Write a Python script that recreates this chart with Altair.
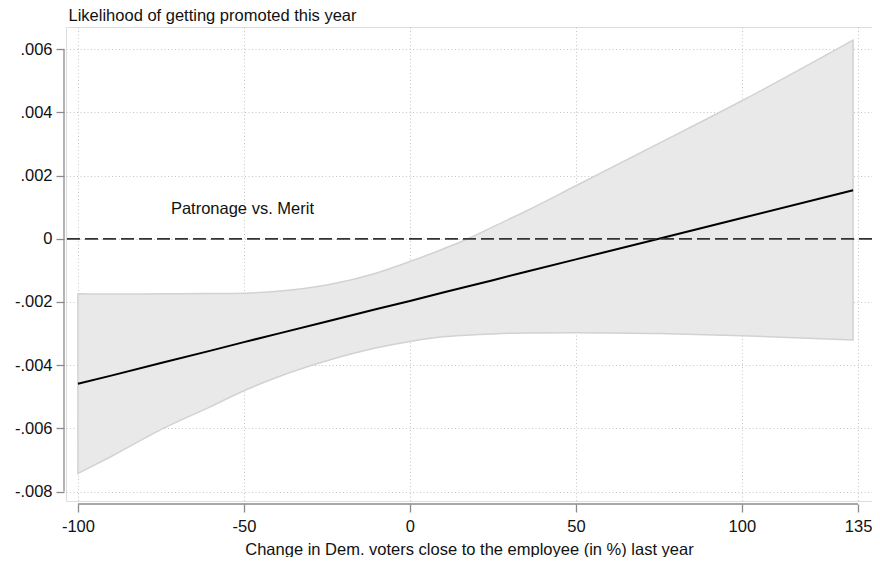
import pandas as pd
import altair as alt

# values
x_vals = [-100, -90, -75, -60, -50, -40, -25, -10, 0, 10, 17, 25, 35, 50, 75, 100, 133.5]
fit_vals = [-.00459, -.00433, -.00393, -.00354, -.00327, -.00301, -.00262, -.00222, -.00197,
            -.00170, -.00152, -.00131, -.00104, -.00065, .0, .00066, .00154]
ci_upper = [-.00174, -.00175, -.00174, -.00173, -.00172, -.00166, -.00146, -.00108, -.00072,
            -.00032, -.00002, .00038, .00088, .00168, .00302, .00437, .00629]
ci_lower = [-.00743, -.00689, -.00604, -.00531, -.00481, -.00438, -.00386, -.00345, -.00325,
            -.00310, -.00305, -.00301, -.00298, -.00297, -.00300, -.00307, -.00320]

x_ticks = [-100, -50, 0, 50, 100, 135]
y_ticks = [-.008, -.006, -.004, -.002, 0, .002, .004, .006]

note_text = ["Patronage vs. Merit"]
note_x = [-72]
note_y = [.00095]

FONT = "Liberation Sans"
FS = 16.5
AXIS_GREY = "#8a8a8a"
GRID_GREY = "#c4c4c4"
TEXT = "#111"

df = pd.DataFrame({"x": x_vals, "fit": fit_vals, "hi": ci_upper, "lo": ci_lower})
notes = pd.DataFrame({"x": note_x, "y": note_y, "t": note_text})
zero = pd.DataFrame({"y": [0]})
xaxis_line = pd.DataFrame({"x": [min(x_ticks)], "x2": [max(x_ticks)]})
yaxis_line = pd.DataFrame({"y": [min(y_ticks)], "y2": [max(y_ticks)]})

xscale = alt.Scale(domain=[-103.6, 139.2], nice=False, zero=False)
yscale = alt.Scale(domain=[-.0083, .006706], nice=False, zero=False)

x_axis = alt.Axis(
    values=x_ticks, labelExpr="'' + datum.value", domain=False, offset=3,
    tickSize=8, tickColor=AXIS_GREY, tickWidth=1.3,
    labelBaseline="alphabetic", labelPadding=19.5,
    labelFontSize=FS, labelColor=TEXT, labelFont=FONT, labelFlush=False,
    grid=True, gridDash=[1, 2.5], gridColor=GRID_GREY, gridWidth=1,
    title="Change in Dem. voters close to the employee (in %) last year",
    titleFont=FONT, titleFontSize=FS, titleFontWeight="normal", titleColor=TEXT,
    titleBaseline="alphabetic", titleY=50.5,
)
y_axis = alt.Axis(
    values=y_ticks, domain=False, offset=2,
    labelExpr="datum.value == 0 ? '0' : (datum.value < 0 ? '-' : '')"
              " + replace(format(abs(datum.value), '.3f'), '0.', '.')",
    tickSize=8, tickColor=AXIS_GREY, tickWidth=1.3,
    labelPadding=4, labelFontSize=FS, labelColor=TEXT, labelFont=FONT,
    grid=True, gridDash=[1, 2.5], gridColor=GRID_GREY, gridWidth=1,
    title="Likelihood of getting promoted this year",
    titleFont=FONT, titleFontSize=FS, titleFontWeight="normal", titleColor=TEXT,
    titleAngle=0, titleAlign="left", titleBaseline="alphabetic",
    titleX=4, titleY=-7,
)

base = alt.Chart(df)

band = base.mark_area(
    color="#e9e9e9", stroke="#d2d2d2", strokeWidth=1.5, interpolate="monotone"
).encode(
    x=alt.X("x:Q", scale=xscale, axis=x_axis),
    y=alt.Y("hi:Q", scale=yscale, axis=y_axis),
    y2="lo:Q",
)

fit = base.mark_line(color="black", strokeWidth=2).encode(
    x=alt.X("x:Q", scale=xscale),
    y=alt.Y("fit:Q", scale=yscale),
)

zero_line = alt.Chart(zero).mark_rule(
    color="#333", strokeWidth=1.8, strokeDash=[13, 5]
).encode(y=alt.Y("y:Q", scale=yscale))

note = alt.Chart(notes).mark_text(
    align="left", baseline="middle", font=FONT, fontSize=FS, color=TEXT
).encode(
    x=alt.X("x:Q", scale=xscale),
    y=alt.Y("y:Q", scale=yscale),
    text="t:N",
)

# Stata-style axis lines that stop at the outer ticks
x_line = alt.Chart(xaxis_line).mark_rule(color=AXIS_GREY, strokeWidth=1.3).encode(
    x=alt.X("x:Q", scale=xscale), x2="x2:Q", y=alt.value(477)
)
y_line = alt.Chart(yaxis_line).mark_rule(color=AXIS_GREY, strokeWidth=1.3).encode(
    y=alt.Y("y:Q", scale=yscale), y2="y2:Q", x=alt.value(-2)
)

chart = alt.layer(band, fit, zero_line, note, x_line, y_line).properties(
    width=806, height=474,
    autosize=alt.AutoSizeParams(type="none"),
    padding={"left": 58, "top": 19, "right": 0, "bottom": 56},
).configure_view(stroke=None).configure(background="white")

chart.save("out.html", embed_options={"renderer": "svg", "actions": False})
